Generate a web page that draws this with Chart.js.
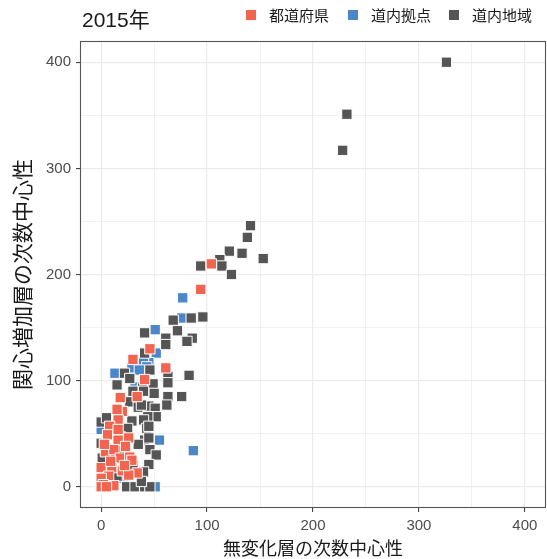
<!DOCTYPE html>
<html>
<head>
<meta charset="utf-8">
<script src="https://cdn.jsdelivr.net/npm/chart.js@4.4.1/dist/chart.umd.min.js"></script>
<style>
  html, body { margin: 0; padding: 0; background: #ffffff; }
  canvas { display: block; }
</style>
</head>
<body>
<canvas id="chart" width="547" height="559"></canvas>
<script>
// Labels
const chartTitle = '2015年';
const seriesNames = ['都道府県', '道内拠点', '道内地域'];
const xAxisTitle = '無変化層の次数中心性';
const yAxisTitle = '関心増加層の次数中心性';

// Axis ticks (labelled and unlabelled grid positions)
const majorTicks = [0, 100, 200, 300, 400];
const minorTicks = [50, 150, 250, 350];

// 都道府県
const prefX = [104, 94, 46, 30, 61, 41, 18, 34, 20, 15, 16, 8, 6, 18, 26, 16, 4, 12, 23, 18,
               27, 29, 0, 10, 20, 34, 26, 7, 0, 2, 12, 0, 5, 16, 9, 22, 3];
const prefY = [210, 186, 130, 120, 112, 101, 84, 85, 71, 73, 63, 57, 49, 47, 46, 44, 33, 35, 38, 27,
               28, 25, 18, 18, 15, 13, 11, 10, 8, 2, 1, 0, 0, 54, 24, 20, 40];

// 道内拠点
const hubX = [77, 76, 51, 52, 45, 40, 43, 29, 13, 32, 0, 55, 87, 21, 51, 36];
const hubY = [178, 159, 148, 126, 117, 119, 113, 112, 107, 94, 54, 44, 34, 8, 0, 110];

// 道内地域
const regionX = [326, 232, 228,
                 141, 138, 121, 133, 153, 112, 114, 94, 123,
                 68, 85, 96, 72, 86, 81, 41, 61, 61, 41,
                 46, 22, 83, 27, 63, 63, 15, 49, 39, 50, 76, 63,
                 30, 40, 27, 35, 45, 38, 51, 62, 52, 44, 29, 40, 0, 43, 45,
                 41, 45, 46, 52, 45, 1, 0, 24, 32, 41, 46, 40, 38,
                 10, 20, 30, 15, 35, 25, 5];
const regionY = [400, 351, 317,
                 246, 235, 222, 220, 215, 214, 208, 208, 200,
                 157, 159, 160, 147, 140, 137, 145, 140, 134, 126,
                 110, 107, 105, 102, 104, 98, 96, 97, 93, 88, 85, 85,
                 90, 90, 80, 75, 76, 77, 74, 77, 66, 66, 62, 63, 61, 55, 57,
                 44, 46, 35, 30, 21, 27, 41, 0, 0, 0, 0, 14, 5,
                 30, 35, 20, 10, 40, 55, 65];

const seriesColors = ['#F1644F', '#4A86C8', '#555555'];

const toPoints = (xs, ys) => xs.map((x, i) => ({ x: x, y: ys[i] }));

const tickFont = { family: "'Liberation Sans', Arial, sans-serif", size: 15 };
const allTicks = majorTicks.concat(minorTicks).sort((a, b) => a - b);
const isMajor = v => majorTicks.includes(v);

const pointStyle = {
  pointStyle: 'rect',
  pointRadius: 7.3,
  pointHoverRadius: 7.3,
  pointBorderColor: '#ffffff',
  pointBorderWidth: 1
};

function makeScale(title, axis) {
  return {
    type: 'linear',
    min: -20,
    max: 420,
    afterBuildTicks: s => { s.ticks = allTicks.map(v => ({ value: v })); },
    afterFit: s => {
      if (axis === 'x') s.height = 51; else s.width = 80;
      s.paddingLeft = 0; s.paddingRight = 0;
      s.paddingTop = 0; s.paddingBottom = 0;
    },
    ticks: {
      autoSkip: false,
      maxRotation: 0,
      padding: 5,
      color: '#4D4D4D',
      font: tickFont,
      callback: v => (isMajor(v) ? String(v) : '')
    },
    grid: {
      drawTicks: true,
      tickLength: 4,
      color: '#EBEBEB',
      lineWidth: c => (isMajor(c.tick.value) ? 1.2 : 0.7),
      tickColor: c => (isMajor(c.tick.value) ? '#333333' : 'rgba(0,0,0,0)'),
      tickWidth: 1
    },
    border: { display: false },
    title: {
      display: true,
      text: title,
      color: '#1A1A1A',
      font: { family: "'Noto Sans CJK JP', sans-serif", size: axis === 'x' ? 18 : 21 },
      padding: axis === 'x' ? { top: 0, bottom: 0 } : { top: 9, bottom: 0 }
    }
  };
}

// Panel frame, plot title and key
const decorations = {
  id: 'decorations',
  afterDatasetsDraw(chart) {
    const { ctx, chartArea: a } = chart;
    ctx.save();
    ctx.strokeStyle = '#555555';
    ctx.lineWidth = 1.1;
    ctx.strokeRect(a.left + 0.5, a.top + 0.5, a.right - a.left - 1, a.bottom - a.top - 1);
    ctx.restore();
  },
  afterDraw(chart) {
    const ctx = chart.ctx;
    ctx.save();
    ctx.textBaseline = 'middle';
    ctx.fillStyle = '#1A1A1A';
    ctx.font = "21px 'Liberation Sans', 'Noto Sans CJK JP', sans-serif";
    ctx.fillText(chartTitle, 82, 21);

    const keyX = [246, 348, 449];
    ctx.font = "15px 'Noto Sans CJK JP', sans-serif";
    chart.data.datasets.forEach((ds, i) => {
      ctx.fillStyle = ds.backgroundColor;
      ctx.fillRect(keyX[i], 10, 10, 10);
      ctx.fillStyle = '#1A1A1A';
      ctx.fillText(ds.label, keyX[i] + 23, 15.5);
    });
    ctx.restore();
  }
};

new Chart(document.getElementById('chart'), {
  type: 'scatter',
  data: {
    datasets: [
      Object.assign({ label: seriesNames[0], data: toPoints(prefX, prefY),
        backgroundColor: seriesColors[0], order: 0 }, pointStyle),
      Object.assign({ label: seriesNames[1], data: toPoints(hubX, hubY),
        backgroundColor: seriesColors[1], order: 2 }, pointStyle),
      Object.assign({ label: seriesNames[2], data: toPoints(regionX, regionY),
        backgroundColor: seriesColors[2], order: 1 }, pointStyle)
    ]
  },
  options: {
    responsive: false,
    animation: false,
    devicePixelRatio: 1,
    layout: { autoPadding: false, padding: { top: 41, right: 1, left: 0, bottom: 0 } },
    plugins: {
      legend: { display: false },
      title: { display: false },
      tooltip: { enabled: false }
    },
    scales: {
      x: makeScale(xAxisTitle, 'x'),
      y: makeScale(yAxisTitle, 'y')
    }
  },
  plugins: [decorations]
});
</script>
</body>
</html>
